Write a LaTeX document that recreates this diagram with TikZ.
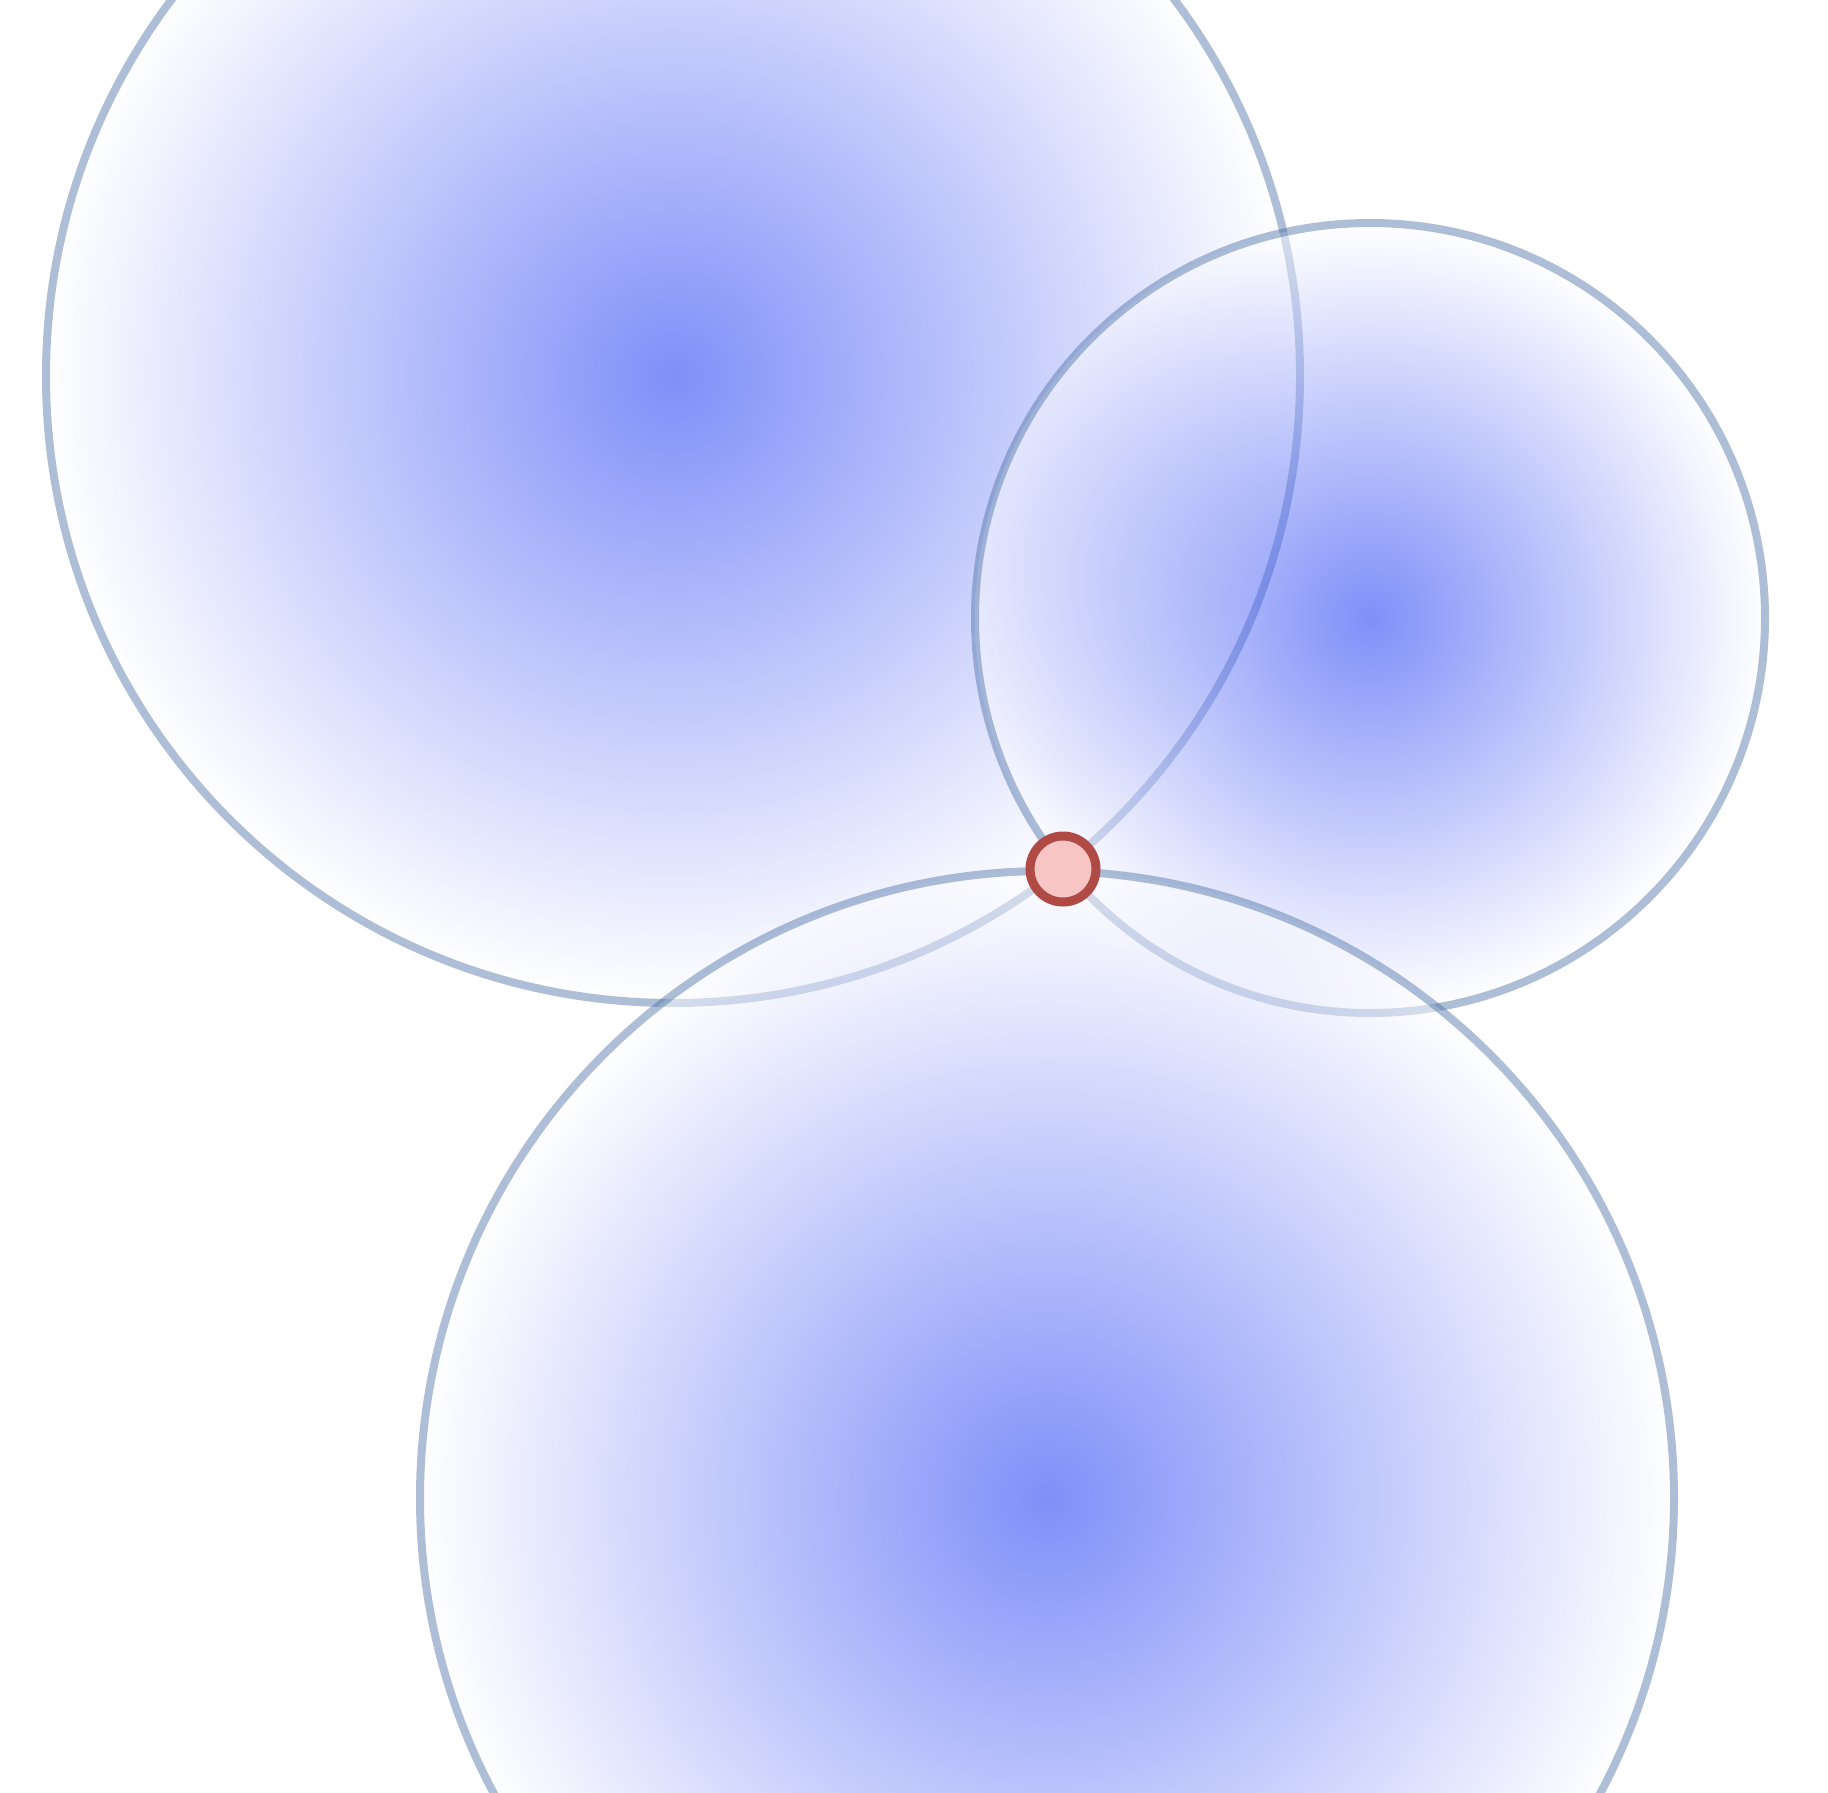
\documentclass[tikz,border=0pt]{standalone}
\definecolor{lineblue}{RGB}{74,111,165}
\definecolor{coreblue}{RGB}{0,32,242}
\definecolor{ptfill}{RGB}{247,198,196}
\definecolor{ptdraw}{RGB}{176,74,69}
\begin{document}
\begin{tikzpicture}[x=1pt,y=-1pt,
  zone/.style={circle, inner sep=0pt, outer sep=0pt, minimum size=#1,
    draw=lineblue, draw opacity=0.45, line width=8pt,
    fill opacity=0.5, inner color=coreblue, outer color=white},
  pt/.style={circle, inner sep=0pt, minimum size=66pt, fill=ptfill,
    draw=ptdraw, line width=9pt}]
\useasboundingbox (0,0) rectangle (1828,1792);
\clip (0,0) rectangle (1828,1792);
\node[zone=1254pt] (c1) at (673,376) {};
\node[zone=790pt] (c2) at (1370,618) {};
\node[zone=1254pt] (c3) at (1047,1498) {};
\node[pt] (p) at (1063,869) {};
\end{tikzpicture}
\end{document}
